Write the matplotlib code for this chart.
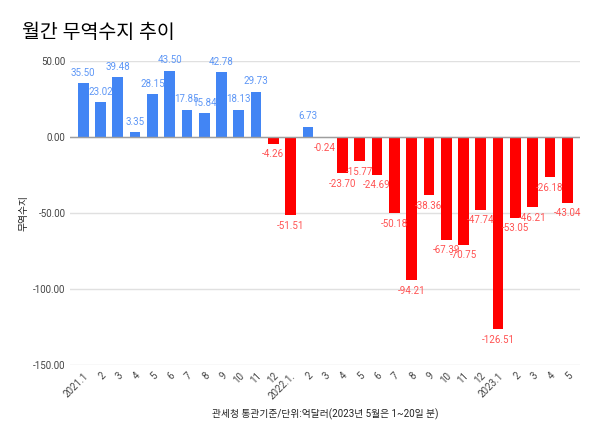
import numpy as np
import matplotlib
matplotlib.use("Agg")
import matplotlib.pyplot as plt

plt.rcParams["font.family"] = ["Roboto", "Noto Sans CJK KR", "DejaVu Sans"]

months = ["2021.1", "2", "3", "4", "5", "6", "7", "8", "9", "10", "11", "12",
          "2022.1.", "2", "3", "4", "5", "6", "7", "8", "9", "10", "11", "12",
          "2023.1", "2", "3", "4", "5"]
balance = [35.50, 23.02, 39.48, 3.35, 28.15, 43.50, 17.85, 15.84, 42.78, 18.13, 29.73, -4.26,
           -51.51, 6.73, -0.24, -23.70, -15.77, -24.69, -50.18, -94.21, -38.36, -67.39, -70.75, -47.74,
           -126.51, -53.05, -46.21, -26.18, -43.04]

x = np.arange(len(months))
vals = np.array(balance)
pos = vals >= 0

fig = plt.figure(figsize=(6, 4.4), dpi=100)
ax = fig.add_axes([0.117, 0.17, 0.85, 0.691])

ax.bar(x, vals, width=0.62, color=np.where(pos, "#4285f4", "#ff0000"), zorder=3)

for xi, v in zip(x, vals):
    if v >= 0:
        ax.annotate("{:.2f}".format(v), (xi, v), xytext=(0, 4), textcoords="offset points",
                    ha="center", va="bottom", fontsize=7, color="#5e97f6", zorder=4)
    else:
        ax.annotate("{:.2f}".format(v), (xi, v), xytext=(0, -4), textcoords="offset points",
                    ha="center", va="top", fontsize=7, color="#ff5252", zorder=4)

ax.set_ylim(-150, 50)
ax.set_xlim(-0.75, len(months) - 0.25)
ax.set_yticks([-150, -100, -50, 0, 50])
ax.set_yticklabels(["{:.2f}".format(t) for t in [-150, -100, -50, 0, 50]])
ax.yaxis.grid(True, color="#e0e0e0", linewidth=1, zorder=0)
ax.axhline(0, color="#9e9e9e", linewidth=1, zorder=3.5)

ax.set_xticks(x)
ax.set_xticklabels(months, rotation=45, ha="right", rotation_mode="anchor")
ax.tick_params(axis="both", length=0, labelsize=7, labelcolor="#444444")
ax.tick_params(axis="x", pad=4)

for s in ax.spines.values():
    s.set_visible(False)

ax.set_ylabel("무역수지", fontsize=7, color="#222222", labelpad=3)
ax.set_xlabel("관세청 통관기준/단위:억달러(2023년 5월은 1~20일 분)", fontsize=7, color="#222222", labelpad=5)

fig.text(0.037, 0.925, "월간 무역수지 추이", fontsize=14, color="#000000", ha="left", va="center")

fig.savefig("out.png", dpi=100)
